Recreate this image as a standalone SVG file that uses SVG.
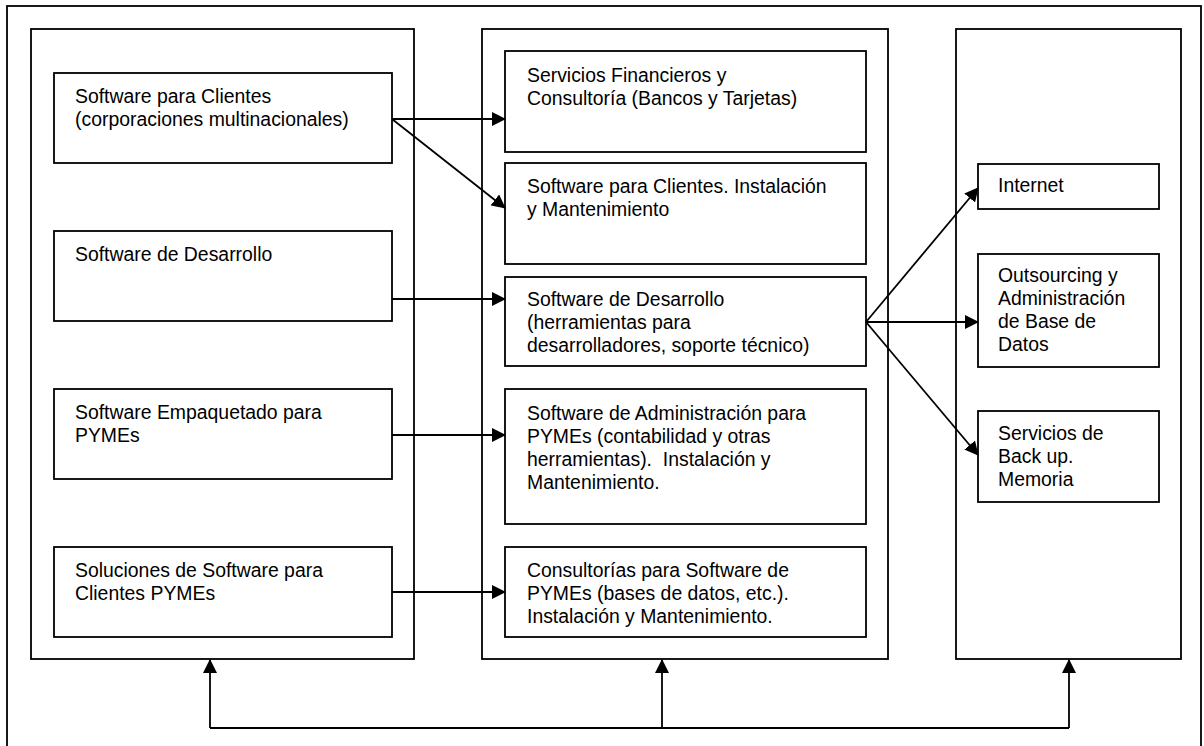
<svg xmlns="http://www.w3.org/2000/svg" width="1204" height="746" viewBox="0 0 1204 746">
<style>
rect{fill:#fff;stroke:#000;stroke-width:1.8}
.frame{fill:none}
text{font-family:"Liberation Sans",Arial,sans-serif;font-size:19.4px;fill:#000}
.c{fill:none;stroke:#000;stroke-width:1.8}
</style>
<defs>
<marker id="ah" markerWidth="14" markerHeight="14" viewBox="0 0 14 14" refX="13" refY="7" orient="auto" markerUnits="userSpaceOnUse">
<path d="M0,0 L14,7 L0,14 Z" fill="#000"/>
</marker>
</defs>
<rect class="frame" x="7" y="6" width="1194" height="770"/>
<g id="col-left"><rect class="frame" x="31" y="29" width="383" height="630"/></g>
<g id="col-mid"><rect class="frame" x="482" y="29" width="406" height="630"/></g>
<g id="col-right"><rect class="frame" x="956" y="29" width="225" height="630"/></g>

<g id="l1"><rect x="54" y="73" width="338" height="90"/><text x="75" y="103">Software para Clientes</text><text x="75" y="126">(corporaciones multinacionales)</text></g>
<g id="l2"><rect x="54" y="231" width="338" height="90"/><text x="75" y="261">Software de Desarrollo</text></g>
<g id="l3"><rect x="54" y="389" width="338" height="90"/><text x="75" y="419">Software Empaquetado para</text><text x="75" y="442">PYMEs</text></g>
<g id="l4"><rect x="54" y="547" width="338" height="90"/><text x="75" y="577">Soluciones de Software para</text><text x="75" y="600">Clientes PYMEs</text></g>

<g id="m1"><rect x="505" y="51" width="361" height="101"/><text x="527" y="82">Servicios Financieros y</text><text x="527" y="105">Consultoría (Bancos y Tarjetas)</text></g>
<g id="m2"><rect x="505" y="163" width="361" height="101"/><text x="527" y="193">Software para Clientes. Instalación</text><text x="527" y="216">y Mantenimiento</text></g>
<g id="m3"><rect x="505" y="277" width="361" height="89"/><text x="527" y="306">Software de Desarrollo</text><text x="527" y="329">(herramientas para</text><text x="527" y="352">desarrolladores, soporte técnico)</text></g>
<g id="m4"><rect x="505" y="389" width="361" height="135"/><text x="527" y="420">Software de Administración para</text><text x="527" y="443">PYMEs (contabilidad y otras</text><text x="527" y="466" xml:space="preserve">herramientas).  Instalación y</text><text x="527" y="489">Mantenimiento.</text></g>
<g id="m5"><rect x="505" y="547" width="361" height="90"/><text x="527" y="577">Consultorías para Software de</text><text x="527" y="600">PYMEs (bases de datos, etc.).</text><text x="527" y="623">Instalación y Mantenimiento.</text></g>

<g id="r1"><rect x="978" y="164" width="181" height="45"/><text x="998" y="192">Internet</text></g>
<g id="r2"><rect x="978" y="254" width="181" height="113"/><text x="998" y="282">Outsourcing y</text><text x="998" y="305">Administración</text><text x="998" y="328">de Base de</text><text x="998" y="351">Datos</text></g>
<g id="r3"><rect x="978" y="411" width="181" height="91"/><text x="998" y="440">Servicios de</text><text x="998" y="463">Back up.</text><text x="998" y="486">Memoria</text></g>

<g id="connectors">
<line class="c" x1="392" y1="119" x2="505" y2="119" marker-end="url(#ah)"/>
<line class="c" x1="392" y1="119" x2="505" y2="208" marker-end="url(#ah)"/>
<line class="c" x1="392" y1="299" x2="505" y2="299" marker-end="url(#ah)"/>
<line class="c" x1="392" y1="435" x2="505" y2="435" marker-end="url(#ah)"/>
<line class="c" x1="392" y1="592" x2="505" y2="592" marker-end="url(#ah)"/>
<line class="c" x1="866" y1="322" x2="978" y2="188" marker-end="url(#ah)"/>
<line class="c" x1="866" y1="322" x2="978" y2="322" marker-end="url(#ah)"/>
<line class="c" x1="866" y1="322" x2="978" y2="455" marker-end="url(#ah)"/>
<polyline class="c" points="210,728 1069,728"/>
<line class="c" x1="210" y1="728" x2="210" y2="660" marker-end="url(#ah)"/>
<line class="c" x1="662" y1="728" x2="662" y2="660" marker-end="url(#ah)"/>
<line class="c" x1="1069" y1="728" x2="1069" y2="660" marker-end="url(#ah)"/>
</g>
</svg>
